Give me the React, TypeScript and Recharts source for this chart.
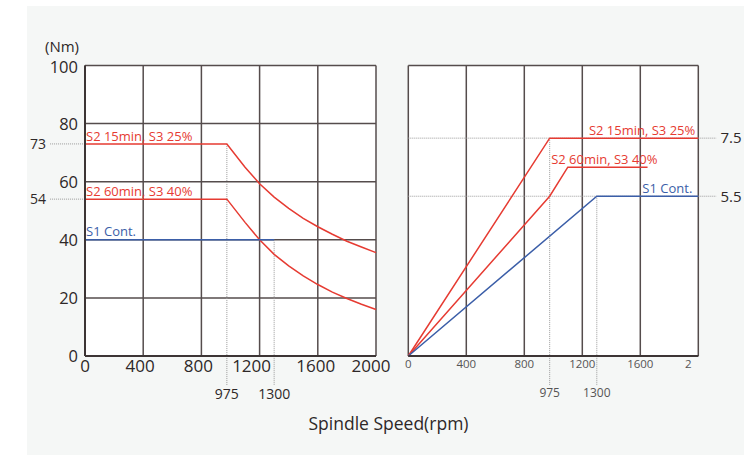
import { LineChart, Line, XAxis, YAxis, CartesianGrid, ReferenceLine } from 'recharts'

// ---- data ----
const speedTicks = [0, 400, 800, 1200, 1600, 2000]
const torqueTicks = [0, 20, 40, 60, 80, 100]
const powerTicks = [0, 2, 4, 6, 8, 10]
const rightTickLabels = ['0', '400', '800', '1200', '1600', '2']

// torque (Nm) vs spindle speed (rpm)
const torqueS2_15 = [
  { rpm: 0, v: 73 }, { rpm: 975, v: 73 }, { rpm: 1100, v: 65 }, { rpm: 1200, v: 59.3 },
  { rpm: 1300, v: 54.7 }, { rpm: 1400, v: 50.8 }, { rpm: 1500, v: 47.4 }, { rpm: 1600, v: 44.5 },
  { rpm: 1700, v: 41.9 }, { rpm: 1800, v: 39.5 }, { rpm: 1900, v: 37.5 }, { rpm: 2000, v: 35.6 },
]
const torqueS2_60 = [
  { rpm: 0, v: 54 }, { rpm: 975, v: 54 }, { rpm: 1100, v: 46 }, { rpm: 1200, v: 40 },
  { rpm: 1300, v: 35 }, { rpm: 1400, v: 31 }, { rpm: 1500, v: 27.6 }, { rpm: 1600, v: 24.6 },
  { rpm: 1700, v: 22 }, { rpm: 1800, v: 19.8 }, { rpm: 1900, v: 17.8 }, { rpm: 2000, v: 16 },
]
const torqueS1 = [{ rpm: 0, v: 40 }, { rpm: 1300, v: 40 }]

// power (kW) vs spindle speed (rpm)
const powerS2_15 = [{ rpm: 0, v: 0 }, { rpm: 975, v: 7.5 }, { rpm: 2000, v: 7.5 }]
const powerS2_60 = [{ rpm: 0, v: 0 }, { rpm: 975, v: 5.5 }, { rpm: 1100, v: 6.5 }, { rpm: 1650, v: 6.5 }]
const powerS1 = [{ rpm: 0, v: 0 }, { rpm: 1300, v: 5.5 }, { rpm: 2000, v: 5.5 }]

const torqueGuidesX = [{ rpm: 975, top: 73 }, { rpm: 1300, top: 40 }]
const torqueGuidesY = [73, 54]
const powerGuidesX = [{ rpm: 975, top: 7.5 }, { rpm: 1300, top: 5.5 }]
const powerGuidesY = [7.5, 5.5]

const names = ['S2 15min,  S3 25%', 'S2 60min,  S3 40%', 'S1 Cont.']

const RED = '#e63b32'
const BLUE = '#3b5ea8'
const GRID = '#554c4c'
const AXIS = '#3d3535'
const DOT = '#9a9a9a'
const FONT = '"Open Sans", sans-serif'

const leftShift: Record<number, number> = { 400: -3, 800: -3, 1200: -8, 1600: -2, 2000: -5 }

const nameLabel = (text: string, idx: number, anchor: 'start' | 'end', dx: number, dy: number, color: string) =>
  (p: any) => {
    if (p.index !== idx) return <g />
    return (
      <text x={p.x + dx} y={p.y + dy} textAnchor={anchor} fill={color} fontSize={13} fontFamily={FONT}>
        {text}
      </text>
    )
  }

const LeftTick = ({ x, y, payload }: any) => (
  <text x={x + (leftShift[payload.value] ?? 0)} y={y} dy="0.71em" textAnchor="middle" fill="#2e2828" fontSize={17} fontFamily={FONT}>
    {payload.value}
  </text>
)

const LeftYTick = ({ x, y, payload }: any) => (
  <text x={x} y={y + (payload.value === 100 ? 2 : 0.5)} dy="0.355em" textAnchor="end" fill="#2e2828" fontSize={16.5} fontFamily={FONT}>
    {payload.value}
  </text>
)

const RightTick = ({ x, y, payload, index }: any) => (
  <text x={x + (index === 5 ? -10 : 0)} y={y} dy="0.71em" textAnchor="middle" fill="#555" fontSize={11.5} fontFamily={FONT}>
    {rightTickLabels[index]}
  </text>
)

function TorqueChart() {
  return (
    <LineChart width={400} height={455} margin={{ top: 65.5, right: 24, bottom: 69, left: 25 }}>
      <CartesianGrid stroke={GRID} strokeWidth={1.5} fill="#ffffff" fillOpacity={1} />
      <XAxis
        type="number" dataKey="rpm" domain={[0, 2000]} ticks={speedTicks}
        tickSize={0} tickMargin={4} height={30} tick={<LeftTick />}
        axisLine={{ stroke: AXIS, strokeWidth: 2 }}
      />
      <YAxis
        type="number" domain={[0, 100]} ticks={torqueTicks} width={60}
        tickSize={0} tickMargin={7} axisLine={{ stroke: AXIS, strokeWidth: 2 }}
        tick={<LeftYTick />}
      />
      {torqueGuidesY.map((v) => (
        <ReferenceLine
          key={'h' + v} ifOverflow="visible" stroke={DOT} strokeDasharray="1 1"
          segment={[{ x: -240, y: v }, { x: 0, y: v }]}
          label={{ value: String(v), position: 'left', offset: 4, fill: '#2e2828', fontSize: 14, fontFamily: FONT }}
        />
      ))}
      {torqueGuidesX.map((g) => (
        <ReferenceLine
          key={'v' + g.rpm} ifOverflow="visible" stroke={DOT} strokeDasharray="1 1"
          segment={[{ x: g.rpm, y: g.top }, { x: g.rpm, y: -10 }]}
          label={{ value: String(g.rpm), position: 'bottom', offset: 4, fill: '#2e2828', fontSize: 14, fontFamily: FONT }}
        />
      ))}
      <Line data={torqueS2_15} dataKey="v" type="linear" stroke={RED} strokeWidth={1.5} dot={false} isAnimationActive={false}
        label={nameLabel(names[0], 0, 'start', 1, -3, RED)} />
      <Line data={torqueS2_60} dataKey="v" type="linear" stroke={RED} strokeWidth={1.5} dot={false} isAnimationActive={false}
        label={nameLabel(names[1], 0, 'start', 1, -3, RED)} />
      <Line data={torqueS1} dataKey="v" type="linear" stroke={BLUE} strokeWidth={1.5} dot={false} isAnimationActive={false}
        label={nameLabel(names[2], 0, 'start', 1, -4, BLUE)} />
    </LineChart>
  )
}

function PowerChart() {
  return (
    <LineChart width={364} height={455} margin={{ top: 65.5, right: 45.7, bottom: 69, left: 28.3 }}>
      <CartesianGrid stroke={GRID} strokeWidth={1.5} fill="#ffffff" fillOpacity={1} />
      <XAxis
        type="number" dataKey="rpm" domain={[0, 2000]} ticks={speedTicks}
        tickSize={0} tickMargin={4} height={30} tick={<RightTick />}
        axisLine={{ stroke: AXIS, strokeWidth: 2 }}
      />
      <YAxis
        type="number" domain={[0, 10]} ticks={powerTicks} width={0}
        tick={false} tickLine={false} axisLine={{ stroke: AXIS, strokeWidth: 2 }}
      />
      {powerGuidesY.map((v) => (
        <ReferenceLine
          key={'h' + v} ifOverflow="visible" stroke={DOT} strokeDasharray="1 1"
          segment={[{ x: 0, y: v }, { x: 2125, y: v }]}
          label={{ value: String(v), position: 'right', offset: 4, fill: '#2e2828', fontSize: 15, fontFamily: FONT }}
        />
      ))}
      {powerGuidesX.map((g) => (
        <ReferenceLine
          key={'v' + g.rpm} ifOverflow="visible" stroke={DOT} strokeDasharray="1 1"
          segment={[{ x: g.rpm, y: g.top }, { x: g.rpm, y: -1 }]}
          label={{ value: String(g.rpm), position: 'bottom', offset: 3, fill: '#555', fontSize: 12, fontFamily: FONT }}
        />
      ))}
      <Line data={powerS2_15} dataKey="v" type="linear" stroke={RED} strokeWidth={1.5} dot={false} isAnimationActive={false}
        label={nameLabel(names[0], 2, 'end', -3, -3, RED)} />
      <Line data={powerS2_60} dataKey="v" type="linear" stroke={RED} strokeWidth={1.5} dot={false} isAnimationActive={false}
        label={nameLabel(names[1], 3, 'end', 10, -3, RED)} />
      <Line data={powerS1} dataKey="v" type="linear" stroke={BLUE} strokeWidth={1.5} dot={false} isAnimationActive={false}
        label={nameLabel(names[2], 2, 'end', -6, -3, BLUE)} />
    </LineChart>
  )
}

export default function App() {
  return (
    <div style={{ position: 'absolute', left: 0, top: 0, width: 744, height: 455, background: '#ffffff', fontFamily: FONT }}>
      <div style={{ position: 'absolute', left: 27, top: 6, width: 717, height: 449, background: '#f5f7f6' }} />
      <div style={{ position: 'absolute', left: 0, top: 0 }}>
        <TorqueChart />
      </div>
      <div style={{ position: 'absolute', left: 380, top: 0 }}>
        <PowerChart />
      </div>
      <div style={{ position: 'absolute', left: 45, top: 39, fontSize: 15, lineHeight: '15px', color: '#2e2828' }}>(Nm)</div>
      <div style={{ position: 'absolute', left: 0, width: 777, top: 411, textAlign: 'center', fontSize: 17.5, color: '#2e2828' }}>
        Spindle Speed(rpm)
      </div>
    </div>
  )
}
